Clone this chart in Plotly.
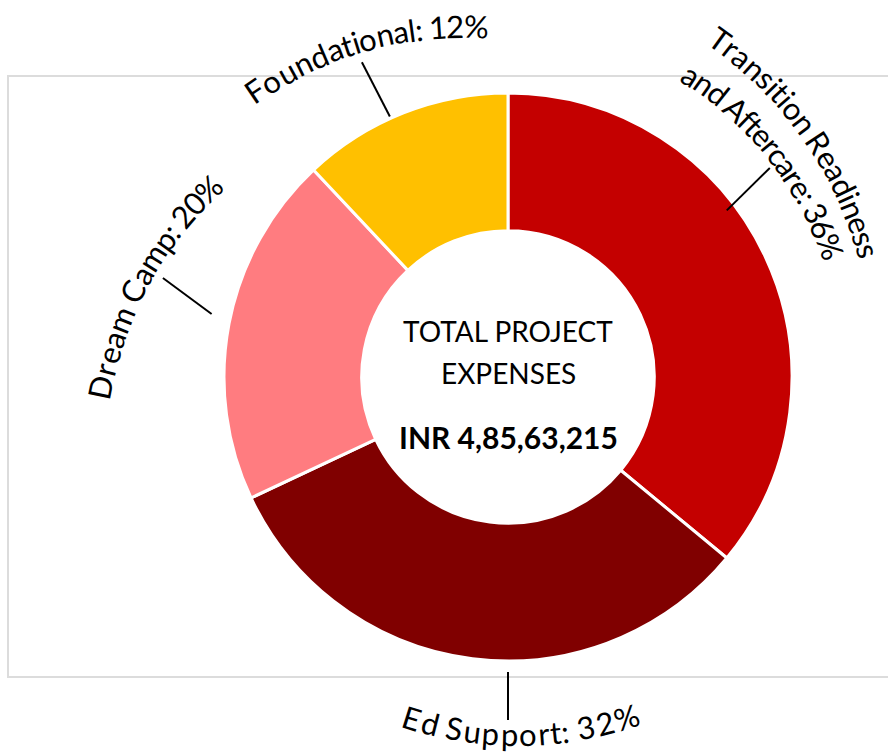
import math
import plotly.graph_objects as go

# ---- data -------------------------------------------------------------
categories = ["Transition Readiness and Aftercare", "Ed Support", "Dream Camp", "Foundational"]
shares = [36, 32, 20, 12]
slice_colors = ["#C40000", "#800000", "#FF7C80", "#FFC000"]
label_rows = [
    ["Transition Readiness", "and Aftercare: {v}%"],
    ["Ed Support: {v}%"],
    ["Dream Camp: {v}%"],
    ["Foundational: {v}%"],
]
center_title = ["TOTAL PROJECT", "EXPENSES"]
total_expenses = "INR 4,85,63,215"

# ---- geometry (pixels on an 888 x 756 page) ---------------------------
W, H = 888, 756
CX, CY, R = 508, 377, 284
HOLE = 0.515
FONT = "Lato"
LABEL_SIZE = 31

# curved label paths: (start angle, end angle, start radius, end radius)
# angles in degrees clockwise from 12 o'clock
label_paths = [
    [(32.1, 70.6, 399, 382), (31.3, 68.1, 354, 348)],
    [(195.7, 160.7, 354, 360)],
    [(268.6, 302.1, 408, 354)],
    [(318.6, 354.8, 382, 352)],
]
# leader lines: (angle0, r0, angle1, r1)
leaders = [
    (52.7, 275, 51.4, 335),
    (180.0, 295, 180.0, 343),
    (282.0, 303, 286.0, 359),
    (335.6, 286, 335.1, 347),
]

# approximate advance widths (em) for the label font
ADV = {' ': 0.193, '%': 0.78, ':': 0.24, 'A': 0.67, 'C': 0.66, 'D': 0.74,
       'E': 0.56, 'F': 0.54, 'R': 0.62, 'S': 0.53, 'T': 0.58, 'a': 0.49,
       'c': 0.45, 'd': 0.56, 'e': 0.52, 'f': 0.32, 'i': 0.24, 'l': 0.24,
       'm': 0.83, 'n': 0.56, 'o': 0.56, 'p': 0.55, 'r': 0.37, 's': 0.42,
       't': 0.34, 'u': 0.56}
for d in "0123456789":
    ADV[d] = 0.58


def paper(px, py):
    return px / W, 1 - py / H


def polar(theta_deg, r):
    t = math.radians(theta_deg)
    return CX + r * math.sin(t), CY - r * math.cos(t)


def arc_text(text, path):
    th0, th1, r0, r1 = path
    widths = [ADV.get(ch, 0.55) for ch in text]
    centers, acc = [], 0.0
    for w in widths:
        centers.append(acc + w / 2)
        acc += w
    span = centers[-1] - centers[0]
    out = []
    for ch, c in zip(text, centers):
        if ch == " ":
            continue
        t = (c - centers[0]) / span
        th = math.radians(th0 + t * (th1 - th0))
        r = r0 + t * (r1 - r0)
        dth = math.radians(th1 - th0)
        dr = r1 - r0
        px, py = CX + r * math.sin(th), CY - r * math.cos(th)
        dx = dr * math.sin(th) + r * math.cos(th) * dth
        dy = -dr * math.cos(th) + r * math.sin(th) * dth
        ang = math.degrees(math.atan2(dy, dx))
        x, y = paper(px, py)
        out.append(dict(x=x, y=y, xref="paper", yref="paper", text=ch,
                        showarrow=False, textangle=ang, xanchor="center",
                        yanchor="middle", borderpad=0,
                        font=dict(family=FONT, size=LABEL_SIZE, color="#000000")))
    return out


fig = go.Figure(go.Pie(
    labels=categories,
    values=shares,
    sort=False,
    direction="clockwise",
    rotation=0,
    hole=HOLE,
    textinfo="none",
    marker=dict(colors=slice_colors, line=dict(color="#FFFFFF", width=3)),
    domain=dict(x=[(CX - R) / W, (CX + R) / W], y=[1 - (CY + R) / H, 1 - (CY - R) / H]),
    showlegend=False,
))

annotations = []
for rows, paths, v in zip(label_rows, label_paths, shares):
    for row, path in zip(rows, paths):
        annotations += arc_text(row.format(v=v), path)

# centre text
for txt, dy, size, bold in [(center_title[0], -46, 28, False),
                            (center_title[1], -4, 28, False),
                            (total_expenses, 60, 30, True)]:
    x, y = paper(CX, CY + dy)
    annotations.append(dict(
        x=x, y=y, xref="paper", yref="paper", showarrow=False,
        text=f"<b>{txt}</b>" if bold else txt, xanchor="center", yanchor="middle",
        font=dict(family=FONT, size=size, color="#000000")))

shapes = [dict(type="rect", xref="paper", yref="paper",
               x0=8 / W, x1=1.02, y0=1 - 677 / H, y1=1 - 76 / H,
               line=dict(color="#DCDCDC", width=2), layer="below")]
for a0, r0, a1, r1 in leaders:
    x0, y0 = paper(*polar(a0, r0))
    x1, y1 = paper(*polar(a1, r1))
    shapes.append(dict(type="line", xref="paper", yref="paper",
                       x0=x0, y0=y0, x1=x1, y1=y1,
                       line=dict(color="#000000", width=2)))

fig.update_layout(
    width=W, height=H,
    margin=dict(l=0, r=0, t=0, b=0),
    paper_bgcolor="#FFFFFF",
    plot_bgcolor="#FFFFFF",
    annotations=annotations,
    shapes=shapes,
)

fig.write_html("out.html")
